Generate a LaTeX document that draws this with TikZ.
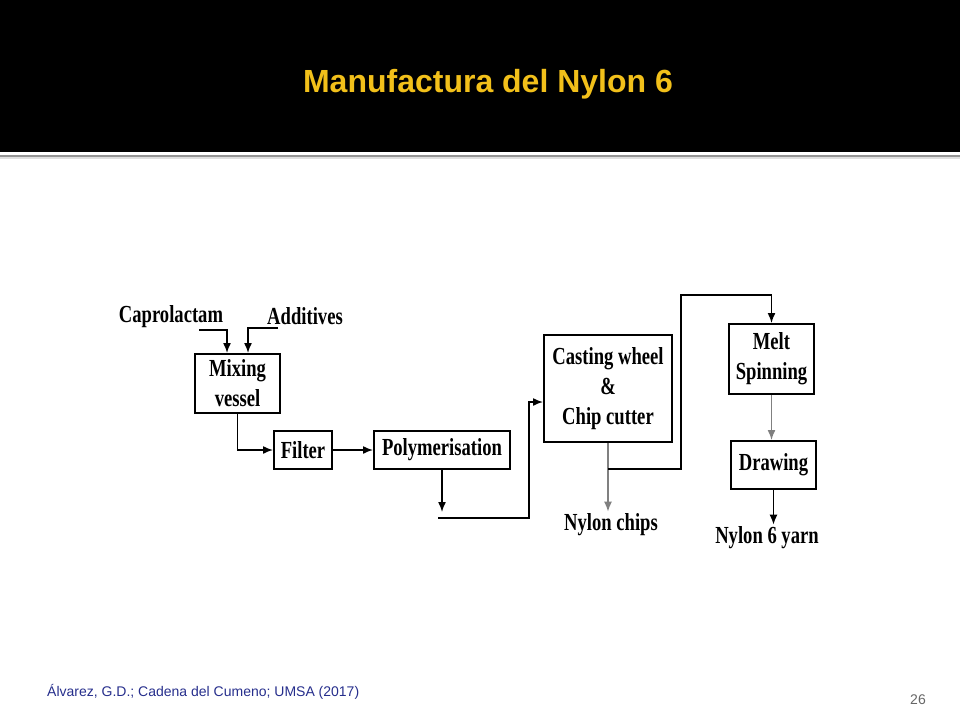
\documentclass[tikz,border=0pt]{standalone}
\usepackage{fontspec}
\newfontfamily\flowfont[FakeStretch=0.76]{Liberation Serif}
\newfontfamily\slidefont{Liberation Sans}
\usetikzlibrary{calc,arrows.meta}
\definecolor{titleyellow}{RGB}{242,192,26}
\definecolor{footblue}{RGB}{38,46,140}
\begin{document}
\begin{tikzpicture}[x=1pt,y=-1pt,
    stagebox/.style={draw,line width=2pt,align=center,inner sep=0pt,
      font=\flowfont\bfseries\fontsize{24.5}{30}\selectfont},
    feedlabel/.style={inner sep=0pt,font=\flowfont\bfseries\fontsize{24.5}{30}\selectfont},
    flow/.style={-{Latex[length=10pt,width=8pt]},line width=1.5pt},
    greyflow/.style={flow,gray}]
          \useasboundingbox (0,0) rectangle (960,720);
          \fill[black] (0,0) rectangle (960,152);
          \draw[gray!85,line width=2pt] (0,155.5) -- (960,155.5);
          \draw[gray!25,line width=2pt] (0,158) -- (960,158);
          \node[font=\slidefont\bfseries\fontsize{32}{38}\selectfont,text=titleyellow] (title) at (488,84) {Manufactura del Nylon 6};
          \node[anchor=west,font=\slidefont\fontsize{14}{16}\selectfont,text=footblue,inner sep=0pt] (cite) at (47,692) {Álvarez, G.D.; Cadena del Cumeno; UMSA (2017)};
          \node[font=\slidefont\fontsize{14}{16}\selectfont,text=gray!80!black,inner sep=0pt] (page) at (918,700) {26};

          \node[feedlabel] (capro) at (171,317) {Caprolactam};
          \node[feedlabel] (addit) at (305,316) {Additives};
          \node[stagebox,minimum width=85pt,minimum height=59pt] (mix) at (237.5,383.5) {Mixing\\vessel};
          \node[stagebox,minimum width=58pt,minimum height=38pt] (filter) at (303,450) {Filter};
          \node[stagebox,minimum width=136pt,minimum height=38pt] (poly) at (442,450) {Polymerisation};
          \node[stagebox,minimum width=128pt,minimum height=107pt] (cast) at (608,388.5) {Casting wheel\\\&\\Chip cutter};
          \node[stagebox,minimum width=85pt,minimum height=70pt] (melt) at (771.5,359) {Melt\\Spinning};
          \node[stagebox,minimum width=85pt,minimum height=48pt] (drawing) at (773.5,465) {Drawing};
          \node[feedlabel] (chips) at (611,525) {Nylon chips};
          \node[feedlabel] (yarn) at (767,538) {Nylon 6 yarn};

          \coordinate (captail) at (199,330);
          \coordinate (addtail) at (278,328);
          \coordinate (pdrop) at (442,512);
          \coordinate (pleft) at (438,518);
          \coordinate (pright) at (529,518);
          \coordinate (cbranch) at (608,469);
          \coordinate (ctop) at (681,295);

          \draw[flow] (captail) -| ($(mix.north)+(-10.5,0)$);
          \draw[flow] (addtail) -| ($(mix.north)+(10.5,0)$);
          \draw[flow] (mix.south) |- (filter.west);
          \draw[flow] (filter.east) -- (poly.west);
          \draw[flow] (poly.south) -- (pdrop);
          \draw[flow] (pleft) -- (pright) |- ($(cast.west)+(0,13.5)$);
          \draw[greyflow] (cast.south) -- ($(cast.south |- chips.north)+(0,-2)$);
          \draw[flow] (cbranch) -| (ctop) -| (melt.north);
          \draw[greyflow] (melt.south) -- (melt.south |- drawing.north);
          \draw[flow] (drawing.south) -- ($(drawing.south |- yarn.north)+(0,-2)$);
      \end{tikzpicture}
\end{document}
